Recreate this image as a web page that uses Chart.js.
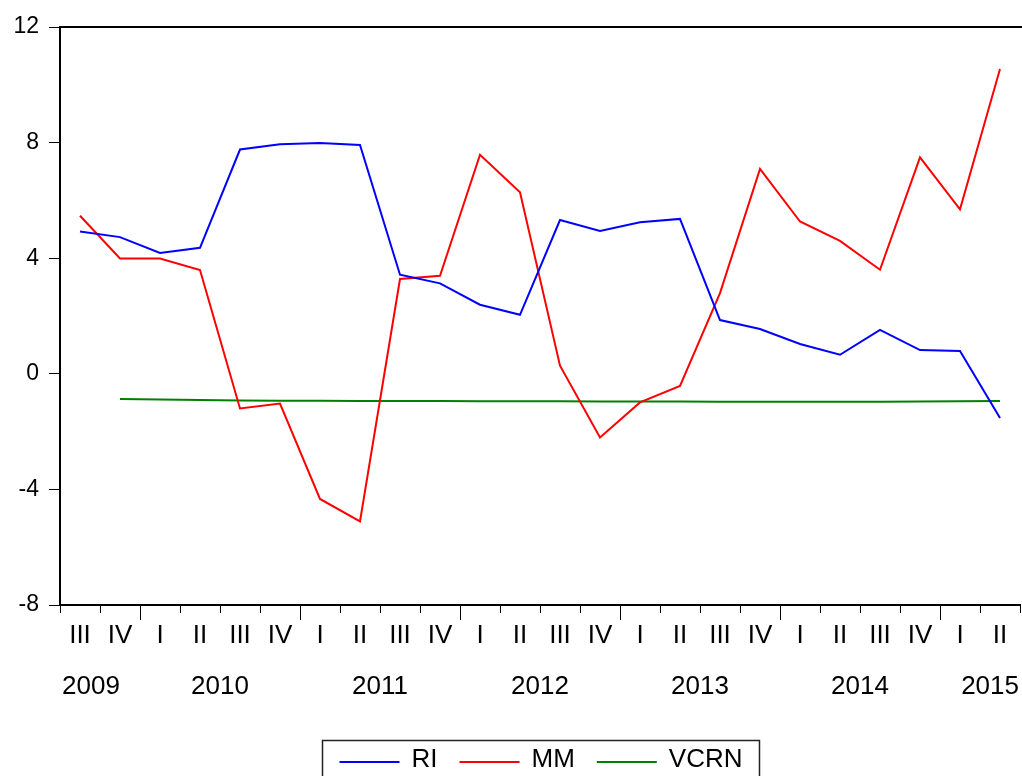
<!DOCTYPE html>
<html>
<head>
<meta charset="utf-8">
<script src="https://cdn.jsdelivr.net/npm/chart.js@4.4.1/dist/chart.umd.min.js"></script>
<style>
  html, body { margin: 0; padding: 0; background: #ffffff; }
  #c { display: block; }
</style>
</head>
<body>
<canvas id="c" width="1022" height="776"></canvas>
<script>
const quarterLabels = ['III','IV','I','II','III','IV','I','II','III','IV','I','II',
                       'III','IV','I','II','III','IV','I','II','III','IV','I','II'];
const yearLabels = ['2009','2010','2011','2012','2013','2014','2015'];

const seriesRI = [4.92, 4.73, 4.18, 4.36, 7.76, 7.94, 7.99, 7.92,
                  3.43, 3.13, 2.39, 2.04, 5.32, 4.94, 5.24, 5.36,
                  1.86, 1.55, 1.03, 0.66, 1.52, 0.82, 0.79, -1.53];
const seriesMM = [5.47, 3.99, 3.99, 3.59, -1.20, -1.03, -4.33, -5.11,
                  3.28, 3.39, 7.58, 6.28, 0.28, -2.20, -0.99, -0.42,
                  2.79, 7.09, 5.27, 4.60, 3.60, 7.49, 5.69, 10.55];
const seriesVCRN = [null, -0.87, -0.89, -0.91, -0.92, -0.93, -0.93, -0.94,
                    -0.94, -0.94, -0.95, -0.95, -0.95, -0.96, -0.96, -0.96,
                    -0.97, -0.97, -0.97, -0.97, -0.97, -0.96, -0.95, -0.94];
const seriesNames = ['RI', 'MM', 'VCRN'];
const seriesColors = ['#0000FF', '#FF0000', '#008000'];

const yTicks = [-8, -4, 0, 4, 8, 12];

const FONT = '"Liberation Sans", Arial, sans-serif';

const decorPlugin = {
  id: 'decor',
  afterDraw(chart) {
    const ctx = chart.ctx;
    const area = chart.chartArea;
    const xs = chart.scales.x;
    const n = quarterLabels.length;
    const w = (area.right - area.left) / n;
    ctx.save();
    // top frame line
    ctx.strokeStyle = '#000';
    ctx.lineWidth = 2;
    ctx.beginPath();
    ctx.moveTo(area.left, area.top);
    ctx.lineTo(chart.width, area.top);
    ctx.stroke();

    // year boundaries (long ticks) + year labels
    const starts = [];
    quarterLabels.forEach((q, i) => { if (q === 'I') starts.push(i); });
    ctx.lineWidth = 1;
    starts.forEach(i => {
      const bx = Math.round(xs.getPixelForValue(i) - w / 2) + 0.5;
      ctx.beginPath();
      ctx.moveTo(bx, area.bottom);
      ctx.lineTo(bx, area.bottom + 15);
      ctx.stroke();
    });
    ctx.font = '26px ' + FONT;
    ctx.fillStyle = '#000';
    ctx.textBaseline = 'middle';
    ctx.textAlign = 'left';
    yearLabels.forEach((yl, k) => {
      let startIdx = k === 0 ? starts[0] - 4 : starts[k - 1];
      const startPx = xs.getPixelForValue(startIdx) - w / 2;
      let cx = startPx + 2 * w;
      const tw = ctx.measureText(yl).width;
      let lx = cx - tw / 2;
      if (lx < area.left + 2) lx = area.left + 2;
      if (lx + tw > area.right - 1) lx = area.right - 1 - tw;
      ctx.fillText(yl, lx, 687);
    });

    // legend
    ctx.font = '26px ' + FONT;
    const lineLen = 60, gapText = 12, gapItem = 22, pad = 17;
    const widths = seriesNames.map(s => ctx.measureText(s).width);
    let total = pad * 2;
    widths.forEach((tw, i) => { total += lineLen + gapText + tw + (i < widths.length - 1 ? gapItem : 0); });
    const bx0 = Math.round((area.left + area.right) / 2 - total / 2) + 0.5;
    const by0 = 740.5;
    ctx.strokeStyle = '#222';
    ctx.lineWidth = 1.5;
    ctx.strokeRect(bx0, by0, total, 60);
    let x = bx0 + pad;
    seriesNames.forEach((s, i) => {
      ctx.strokeStyle = seriesColors[i];
      ctx.lineWidth = 2;
      ctx.beginPath();
      ctx.moveTo(x, 762);
      ctx.lineTo(x + lineLen, 762);
      ctx.stroke();
      x += lineLen + gapText;
      ctx.fillStyle = '#000';
      ctx.fillText(s, x, 760);
      x += widths[i] + gapItem;
    });
    ctx.restore();
  }
};

new Chart(document.getElementById('c'), {
  type: 'line',
  data: {
    labels: quarterLabels,
    datasets: [
      { label: seriesNames[0], data: seriesRI, borderColor: seriesColors[0] },
      { label: seriesNames[1], data: seriesMM, borderColor: seriesColors[1] },
      { label: seriesNames[2], data: seriesVCRN, borderColor: seriesColors[2] }
    ].map(d => Object.assign(d, {
      borderWidth: 2, pointRadius: 0, tension: 0, fill: false, spanGaps: false
    }))
  },
  options: {
    responsive: false,
    animation: false,
    layout: { padding: { top: 27, right: 2, left: 0, bottom: 0 } },
    plugins: { legend: { display: false }, tooltip: { enabled: false } },
    scales: {
      x: {
        type: 'category',
        offset: true,
        grid: { display: true, drawOnChartArea: false, offset: true, tickLength: 8, color: '#000', lineWidth: 1 },
        border: { display: true, color: '#000', width: 2 },
        ticks: { color: '#000', font: { family: FONT, size: 26 }, padding: 7, maxRotation: 0, autoSkip: false },
        afterFit(scale) { scale.height = 171; }
      },
      y: {
        min: -8, max: 12,
        afterBuildTicks(scale) { scale.ticks = yTicks.map(v => ({ value: v })); },
        grid: { display: true, drawOnChartArea: false, tickLength: 11, color: '#000', lineWidth: 1 },
        border: { display: true, color: '#000', width: 2 },
        ticks: { color: '#000', font: { family: FONT, size: 23 }, padding: 10 },
        afterFit(scale) { scale.width = 60; }
      }
    }
  },
  plugins: [decorPlugin]
});
</script>
</body>
</html>
